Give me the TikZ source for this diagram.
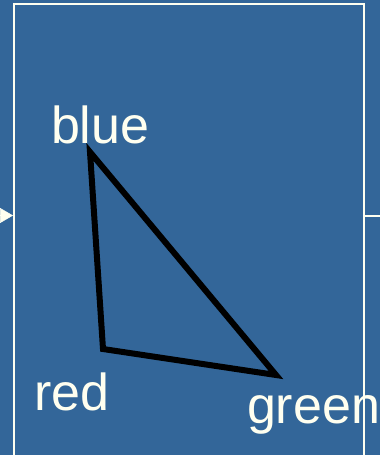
\documentclass[tikz,border=0pt]{standalone}
\usepackage{fontspec}
\setmainfont{Liberation Sans}
\usetikzlibrary{arrows.meta}
\definecolor{bg}{HTML}{336699}
\definecolor{ivory}{HTML}{FFFFF0}
\begin{document}
\begin{tikzpicture}[x=1pt,y=-1pt,
  lbl/.style={text=ivory, font=\fontsize{52}{60}\selectfont, inner sep=0pt, outer sep=0pt, anchor=base west},
  edge/.style={line width=6pt, line join=miter, black},
  frame/.style={draw=ivory, line width=2pt, inner sep=0pt, outer sep=0pt, rectangle}]
\useasboundingbox (0,0) rectangle (380,455);
\clip (0,0) rectangle (380,455);
\fill[bg] (0,0) rectangle (380,455);
% labels
\node[lbl] (lblue) at (51,143) {blue};
\node[lbl] (lred) at (34,410) {red};
\node[lbl] (lgreen) at (247,423) {green};
% frame
\node[frame, minimum width=350pt, minimum height=480pt, anchor=north west] (box) at (14,4) {};
% input arrow and output line
\coordinate (inp) at (0,215.5);
\coordinate (tipL) at (13,215.5);
\draw[ivory, line width=0.5pt, -{Triangle[length=13pt,width=15pt]}] (inp) -- (tipL);
\coordinate (outs) at (365,215.5);
\coordinate (outp) at (380,215.5);
\draw[ivory, line width=2pt] (outs) -- (outp);
% triangle
\coordinate (A) at (90,152);
\coordinate (B) at (103,349);
\coordinate (C) at (276,375);
\draw[edge] (A) -- (B) -- (C) -- cycle;
\end{tikzpicture}
\end{document}
